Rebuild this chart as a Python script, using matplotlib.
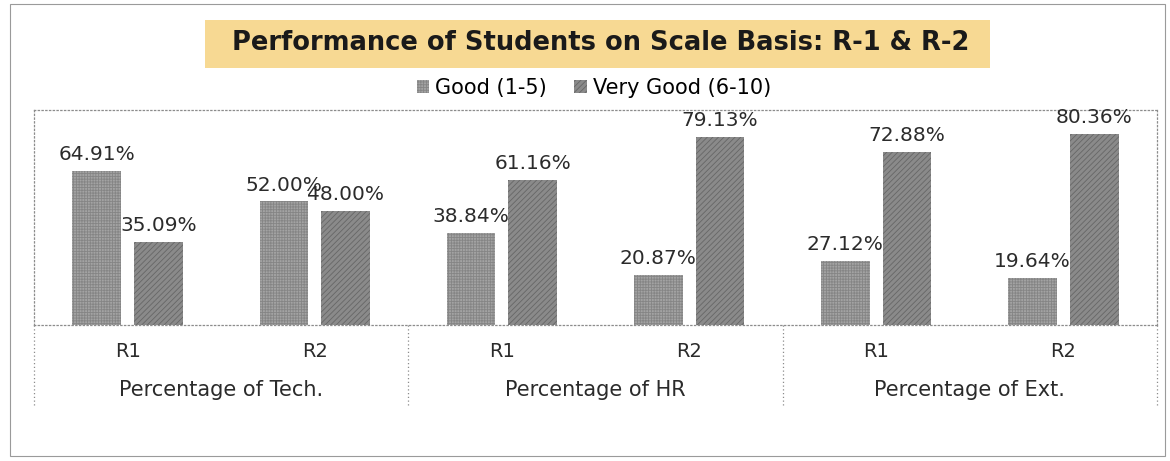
import matplotlib
matplotlib.use("Agg")
import matplotlib.pyplot as plt
from matplotlib.patches import Rectangle, Patch
from matplotlib.lines import Line2D
import numpy as np

plt.rcParams['hatch.linewidth'] = 0.6

title = "Performance of Students on Scale Basis: R-1 & R-2"
groups = ["Percentage of Tech.", "Percentage of HR", "Percentage of Ext."]
rounds = ["R1", "R2", "R1", "R2", "R1", "R2"]
series_names = ["Good (1-5)", "Very Good (6-10)"]
good = [64.91, 52.00, 38.84, 20.87, 27.12, 19.64]
very_good = [35.09, 48.00, 61.16, 79.13, 72.88, 80.36]

W, H = 1170, 461
fig = plt.figure(figsize=(W / 100, H / 100), dpi=100)
fig.patch.set_facecolor("white")

# outer frame
fig.add_artist(Rectangle((10 / W, 5 / H), 1155 / W, 452 / H, transform=fig.transFigure,
                         fill=False, edgecolor="#9a9a9a", linewidth=0.8))
# highlighter band behind the title
fig.add_artist(Rectangle((205 / W, 1 - 68 / H), 785 / W, 48 / H, transform=fig.transFigure,
                         facecolor="#f7d993", edgecolor="none", zorder=0))

dot = (0, (1, 2))
ax = fig.add_axes([34 / W, 1 - 325 / H, (1157 - 34) / W, (325 - 110) / H])
x = np.arange(len(rounds))
bw = 0.26
off = 0.165
styles = [dict(facecolor="#a3a3a3", hatch="++++++", edgecolor="#858585"),
          dict(facecolor="#8a8a8a", hatch="//////", edgecolor="#666666")]
vals = [good, very_good]
for i, (v, st) in enumerate(zip(vals, styles)):
    pos = x + (-off if i == 0 else off)
    bars = ax.bar(pos, v, width=bw, linewidth=0, **st)
    for b, val in zip(bars, v):
        ax.annotate(f"{val:.2f}%", (b.get_x() + b.get_width() / 2, b.get_height()),
                    xytext=(0, 5), textcoords="offset points", ha="center", va="bottom",
                    fontsize=14.5, color="#2b2b2b", family="DejaVu Sans")

ax.set_xlim(-0.5, len(rounds) - 0.5)
ax.set_ylim(0, 90.5)
ax.set_yticks([])
ax.set_xticks([])
for s in ["left", "right", "top", "bottom"]:
    ax.spines[s].set_linestyle(dot)
    ax.spines[s].set_color("#8c8c8c")
    ax.spines[s].set_linewidth(0.9)

# hierarchical category labels
for xi, r in zip(x, rounds):
    ax.text(xi, -27 / 2.38, r, ha="center", va="center", fontsize=14, color="#2b2b2b",
            family="DejaVu Sans")
for gi, g in enumerate(groups):
    ax.text(2 * gi + 0.5, -65 / 2.38, g, ha="center", va="center", fontsize=15,
            color="#2b2b2b", family="DejaVu Sans")
for bx in [-0.5, 1.5, 3.5, 5.5]:
    ax.add_line(Line2D([bx, bx], [0, -80 / 2.38], color="#8c8c8c", linewidth=0.9,
                       linestyle=dot, clip_on=False))

fig.text(601 / W, 1 - 43 / H, title, ha="center", va="center", fontsize=18.5,
         fontweight="bold", family="DejaVu Sans", color="#1a1a1a")

handles = [Patch(facecolor=st["facecolor"], hatch=st["hatch"], edgecolor=st["edgecolor"],
                 linewidth=0) for st in styles]
fig.legend(handles, series_names, loc="center", bbox_to_anchor=(594 / W, 1 - 88 / H),
           ncol=2, frameon=False, handlelength=0.6, handleheight=0.6,
           handletextpad=0.3, columnspacing=1.3, prop={"family": "DejaVu Sans", "size": 15})

fig.savefig("out.png", dpi=100, facecolor="white")
